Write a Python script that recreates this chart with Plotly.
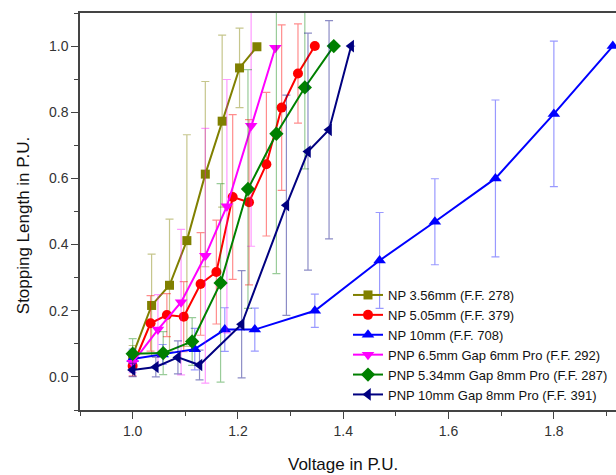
import plotly.graph_objects as go

# ---- data ----
np356_x = [1.0, 1.036, 1.07, 1.103, 1.138, 1.170, 1.203, 1.236]
np356_y = [0.065, 0.216, 0.277, 0.412, 0.613, 0.773, 0.934, 0.998]
np356_e = [0.03, 0.155, 0.2, 0.32, 0.28, 0.26, 0.12, 0.0]

np505_x = [1.0, 1.034, 1.065, 1.097, 1.129, 1.159, 1.190, 1.221, 1.254, 1.283, 1.314, 1.346]
np505_y = [0.033, 0.162, 0.187, 0.182, 0.281, 0.317, 0.544, 0.528, 0.643, 0.814, 0.917, 1.0]
np505_e = [0.03, 0.084, 0.065, 0.106, 0.155, 0.157, 0.249, 0.25, 0.217, 0.25, 0.15, 0.0]

np10_x = [1.0, 1.057, 1.118, 1.175, 1.232, 1.346, 1.469, 1.574, 1.689, 1.800, 1.912]
np10_y = [0.054, 0.068, 0.084, 0.143, 0.143, 0.200, 0.352, 0.469, 0.600, 0.795, 1.0]
np10_e = [0.03, 0.03, 0.063, 0.066, 0.065, 0.05, 0.145, 0.13, 0.237, 0.22, 0.0]

pnp65_x = [1.0, 1.048, 1.092, 1.138, 1.179, 1.225, 1.271]
pnp65_y = [0.043, 0.143, 0.226, 0.366, 0.516, 0.759, 0.995]
pnp65_e = [0.03, 0.106, 0.22, 0.385, 0.383, 0.364, 0.0]

pnp534_x = [1.0, 1.058, 1.113, 1.167, 1.219, 1.273, 1.327, 1.382]
pnp534_y = [0.07, 0.072, 0.107, 0.284, 0.568, 0.735, 0.875, 1.0]
pnp534_e = [0.046, 0.065, 0.072, 0.3, 0.361, 0.423, 0.246, 0.0]

pnp10_x = [1.0, 1.044, 1.086, 1.127, 1.207, 1.292, 1.333, 1.373, 1.415]
pnp10_y = [0.021, 0.030, 0.059, 0.036, 0.159, 0.519, 0.681, 0.747, 1.0]
pnp10_e = [0.02, 0.03, 0.05, 0.045, 0.162, 0.333, 0.358, 0.33, 0.0]

names = ["NP 3.56mm (F.F. 278)", "NP 5.05mm (F.F. 379)", "NP 10mm (F.F. 708)",
         "PNP 6.5mm Gap 6mm Pro (F.F. 292)", "PNP 5.34mm Gap 8mm Pro (F.F. 287)",
         "PNP 10mm Gap 8mm Pro (F.F. 391)"]

series = [
    (np356_x, np356_y, np356_e, "#808000", "rgba(128,128,0,0.45)", "square", 9),
    (np505_x, np505_y, np505_e, "#FF0000", "rgba(255,0,0,0.45)", "circle", 10),
    (np10_x, np10_y, np10_e, "#0000FF", "rgba(0,0,255,0.4)", "triangle-up", 11),
    (pnp65_x, pnp65_y, pnp65_e, "#FF00FF", "rgba(255,0,255,0.4)", "triangle-down", 11),
    (pnp534_x, pnp534_y, pnp534_e, "#008000", "rgba(0,128,0,0.4)", "diamond", 11),
    (pnp10_x, pnp10_y, pnp10_e, "#000080", "rgba(0,0,128,0.45)", "triangle-left", 11),
]

fig = go.Figure()
for name, (xs, ys, es, col, ecol, sym, sz) in zip(names, series):
    fig.add_trace(go.Scatter(
        x=xs, y=ys, name=name, mode="lines+markers",
        line=dict(color=col, width=2),
        marker=dict(symbol=sym, size=sz, color=col, line=dict(width=0)),
        error_y=dict(type="data", array=es, visible=True, color=ecol,
                     thickness=1.2, width=4),
    ))

font = "Arial, Liberation Sans, sans-serif"
fig.update_layout(
    width=616, height=475,
    margin=dict(l=80, r=0, t=13, b=65),
    paper_bgcolor="white", plot_bgcolor="white",
    font=dict(family=font, color="#222", size=14),
    showlegend=True,
    legend=dict(x=0.5, y=0.0, xanchor="left", yanchor="bottom",
                bgcolor="rgba(0,0,0,0)", font=dict(size=13, family=font, color="#111"),
                tracegroupgap=0, itemwidth=30),
    xaxis=dict(range=[0.9, 1.918], showgrid=False, zeroline=False,
               showline=True, linecolor="#444", linewidth=1.5, mirror=True,
               ticks="outside", ticklen=7, tickwidth=1.2, tickcolor="#444",
               tick0=1.0, dtick=0.2, tickformat=".1f",
               minor=dict(ticks="outside", ticklen=4, dtick=0.1, tick0=0.9,
                          tickcolor="#444", showgrid=False),
               tickfont=dict(size=14, color="#333")),
    yaxis=dict(range=[-0.1, 1.1], showgrid=False, zeroline=False,
               showline=True, linecolor="#444", linewidth=1.5,
               ticks="outside", ticklen=7, tickwidth=1.2, tickcolor="#444",
               tick0=0.0, dtick=0.2, tickformat=".1f",
               minor=dict(ticks="outside", ticklen=4, dtick=0.1, tick0=-0.1,
                          tickcolor="#444", showgrid=False),
               tickfont=dict(size=14, color="#333")),
    annotations=[
        dict(text="Voltage in P.U.", xref="paper", yref="paper", x=0.49, y=-0.1385,
             xanchor="center", yanchor="middle", showarrow=False,
             font=dict(size=17, family=font, color="#111")),
        dict(text="Stopping Length in P.U.", xref="paper", yref="paper", x=-0.1063, y=0.463,
             xanchor="center", yanchor="middle", showarrow=False, textangle=-90,
             font=dict(size=17, family=font, color="#111")),
    ],
)

fig.write_html("out.html", config={"displayModeBar": False},
               post_script="document.body.style.margin='0';document.body.style.overflow='hidden';")
